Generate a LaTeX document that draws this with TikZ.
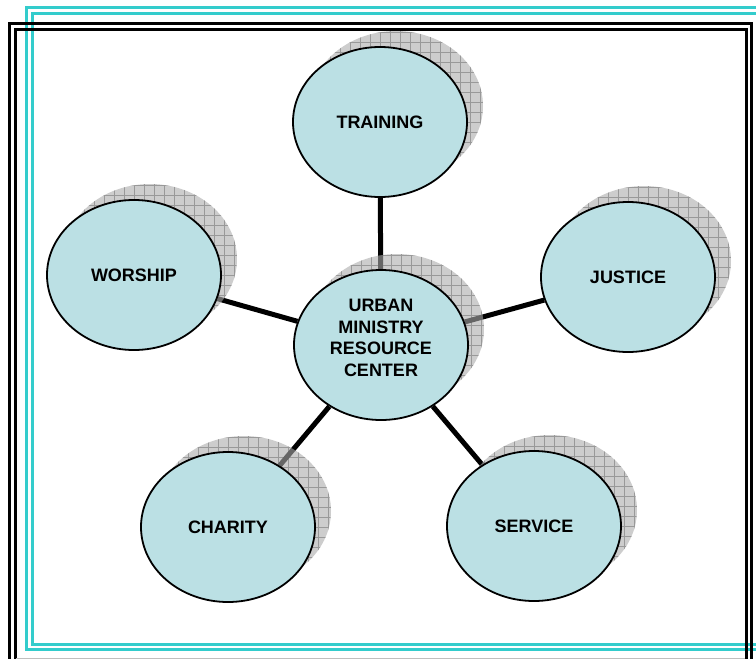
\documentclass[tikz,border=0pt]{standalone}
\usepackage{fontspec}
\setmainfont{Liberation Sans}
\usetikzlibrary{shapes.geometric}
\pgfdeclarelayer{bglayer}
\pgfdeclarelayer{shadlayer}
\pgfsetlayers{bglayer,shadlayer,main}
\definecolor{framecyan}{RGB}{51,204,204}
\definecolor{bubblefill}{RGB}{187,224,228}
\tikzset{
 bubbletext/.style={font=\bfseries\fontsize{18}{21.5}\selectfont, align=center, inner sep=0pt},
 bubble/.style={ellipse, draw=black, line width=1.8pt, fill=bubblefill, minimum width=174pt, minimum height=150pt, inner sep=0pt, bubbletext},
 conn/.style={line width=5pt, black},
 cyanline/.style={draw=framecyan, line width=3pt},
 blackline/.style={draw=black, line width=3pt},
}
\newcommand\dropshadow[1]{%
 \begin{scope}[shift={(#1.center)}]
  \begin{scope}
   \clip (16,-16) ellipse [x radius=87, y radius=75];
   \fill[black!33, fill opacity=0.6] (-80,-100) rectangle (110,70);
   \draw[black!60, line width=0.5pt, opacity=0.5, step=10pt] (-80,-100) grid (110,70);
  \end{scope}
 \end{scope}}
\begin{document}
\begin{tikzpicture}[x=1pt,y=-1pt]
\useasboundingbox (0,0) rectangle (756,659);
% nodes
\node[bubble] (t) at (380,122) {TRAINING};
\node[bubble] (w) at (134,275) {WORSHIP};
\node[bubble] (j) at (628,277) {JUSTICE};
\node[bubble] (c) at (381,345) {};
\node[bubbletext] (ct) at (381,338) {URBAN\\MINISTRY\\RESOURCE\\CENTER};
\node[bubble] (ch) at (228,527) {CHARITY};
\node[bubble] (s) at (534,526) {SERVICE};
% frames and connectors
\begin{pgfonlayer}{bglayer}
 \begin{scope}
  \clip (0,0) rectangle (756,659);
  \draw[cyanline] (800,7) -- (26,7) -- (26,649) -- (800,649);
  \draw[cyanline] (800,13) -- (32,13) -- (32,644) -- (800,644);
  \draw[blackline] (9,700) -- (9,23) -- (751,23) -- (751,700);
  \draw[blackline] (15,700) -- (15,29) -- (746,29) -- (746,700);
  \draw[gray!50, line width=1pt] (16,658.5) -- (745,658.5);
 \end{scope}
 \draw[conn] (c) -- (t);
 \draw[conn] (c) -- (w);
 \draw[conn] (c) -- (j);
 \draw[conn] (c) -- (ch);
 \draw[conn] (c) -- (s);
\end{pgfonlayer}
% shadows
\begin{pgfonlayer}{shadlayer}
 \dropshadow{t}
 \dropshadow{w}
 \dropshadow{j}
 \dropshadow{c}
 \dropshadow{ch}
 \dropshadow{s}
\end{pgfonlayer}
\end{tikzpicture}
\end{document}
